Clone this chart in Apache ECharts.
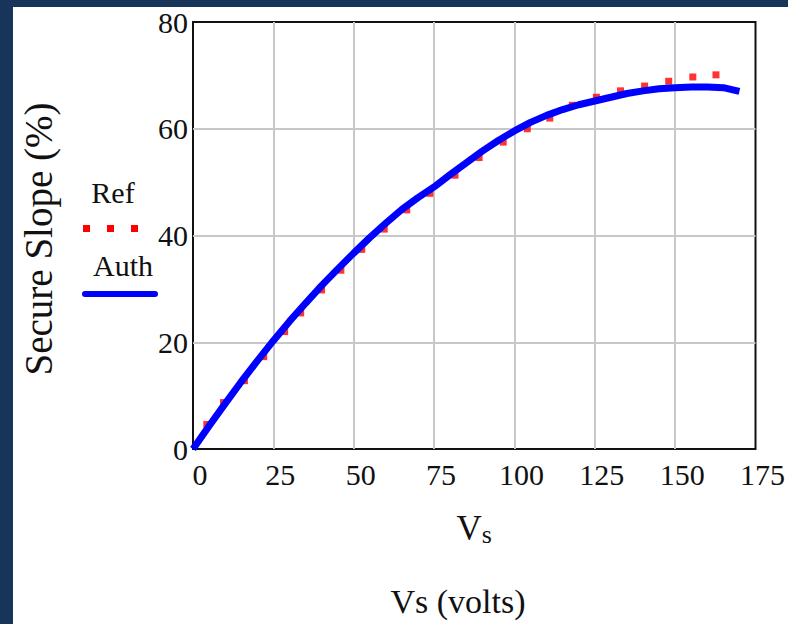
<!DOCTYPE html>
<html>
<head>
<meta charset="utf-8">
<script src="https://cdn.jsdelivr.net/npm/echarts@6/dist/echarts.min.js"></script>
<style>
  html, body { margin: 0; padding: 0; background: #17355b; }
  #chart { position: absolute; left: 13px; top: 7px; width: 775px; height: 617px; }
</style>
</head>
<body>
<div id="chart"></div>
<script>
const xTicks = [0, 25, 50, 75, 100, 125, 150, 175];
const yTicks = [0, 20, 40, 60, 80];

// Auth curve (solid blue)
const authVs = [0, 5, 10, 15, 20, 25, 30, 35, 40, 45, 50, 55, 60, 65, 70, 75, 80, 85,
  90, 95, 100, 105, 110, 115, 120, 125, 130, 135, 140, 145, 150, 155, 160, 165, 170];
const authSlope = [0, 4.3, 8.5, 12.6, 16.5, 20.3, 23.9, 27.3, 30.6, 33.7, 36.7, 39.6,
  42.3, 44.9, 47.1, 49.1, 51.4, 53.6, 55.8, 57.8, 59.6, 61.2, 62.5, 63.6, 64.5, 65.2,
  65.9, 66.6, 67.1, 67.5, 67.7, 67.8, 67.8, 67.7, 67.0];

// Ref points (red squares), mostly hidden under the blue curve
const refVs = [4.3, 9.5, 16, 22, 28.5, 33.5, 40, 46, 52.5, 59.5, 66.5, 73.7, 81.5, 89,
  96.5, 104, 111, 118, 125.5, 133, 140.5, 148, 155.5, 162.7];
const refSlope = [4.6, 8.7, 12.8, 17.3, 22.0, 25.5, 29.8, 33.5, 37.4, 41.2, 44.8, 47.9,
  51.3, 54.6, 57.5, 60.0, 62.0, 64.4, 65.9, 67.1, 68.0, 68.9, 69.7, 70.1];

const font = '"Liberation Serif", "Times New Roman", serif';

const chart = echarts.init(document.getElementById('chart'), null, { renderer: 'svg' });

chart.setOption({
  backgroundColor: '#ffffff',
  animation: false,
  grid: {
    left: 180, top: 15, width: 570, height: 427,
    show: true, borderColor: '#111', borderWidth: 2, backgroundColor: 'transparent'
  },
  xAxis: {
    type: 'value',
    min: xTicks[0], max: xTicks[xTicks.length - 1], interval: 25,
    axisLine: { show: false },
    axisTick: { show: false },
    axisLabel: {
      color: '#111', fontFamily: font, fontSize: 30, margin: 10,
      padding: [0, 0, 0, 14], showMaxLabel: true
    },
    splitLine: { show: true, showMinLine: false, showMaxLine: false,
      lineStyle: { color: '#c8c8c8', width: 2 } },
    name: '{v|V}{s|s}',
    nameLocation: 'middle',
    nameGap: 62,
    nameTextStyle: {
      rich: {
        v: { fontFamily: font, fontSize: 35, color: '#111', verticalAlign: 'top', lineHeight: 36 },
        s: { fontFamily: font, fontSize: 26, color: '#111', verticalAlign: 'bottom', padding: [22, 0, 0, 0], lineHeight: 26 }
      }
    }
  },
  yAxis: {
    type: 'value',
    min: yTicks[0], max: yTicks[yTicks.length - 1], interval: 20,
    axisLine: { show: false },
    axisTick: { show: false },
    axisLabel: {
      color: '#111', fontFamily: font, fontSize: 30, margin: 5,
      padding: [8, 0, 0, 0]
    },
    splitLine: { show: true, showMinLine: false, showMaxLine: false,
      lineStyle: { color: '#c8c8c8', width: 2 } }
  },
  series: [
    {
      name: 'Ref',
      type: 'scatter',
      data: refVs.map((v, i) => [v, refSlope[i]]),
      symbol: 'rect',
      symbolSize: 7,
      itemStyle: { color: '#ff0000' },
      z: 2
    },
    {
      name: 'Auth',
      type: 'line',
      data: authVs.map((v, i) => [v, authSlope[i]]),
      showSymbol: false,
      lineStyle: { color: '#0000ff', width: 7 },
      z: 3
    }
  ],
  graphic: [
    {
      type: 'text', x: 25, y: 232, rotation: Math.PI / 2,
      style: { text: 'Secure Slope (%)', font: '39px ' + font, fill: '#111',
        align: 'center', verticalAlign: 'middle' }
    },
    {
      type: 'text', x: 445, y: 594,
      style: { text: 'Vs (volts)', font: '34px ' + font, fill: '#111',
        align: 'center', verticalAlign: 'middle' }
    },
    // legend
    {
      type: 'text', x: 100, y: 185,
      style: { text: 'Ref', font: '30px ' + font, fill: '#111', align: 'center', verticalAlign: 'middle' }
    },
    { type: 'rect', shape: { x: 70, y: 218, width: 7, height: 7 }, style: { fill: '#ff0000' } },
    { type: 'rect', shape: { x: 94, y: 218, width: 7, height: 7 }, style: { fill: '#ff0000' } },
    { type: 'rect', shape: { x: 118, y: 218, width: 7, height: 7 }, style: { fill: '#ff0000' } },
    {
      type: 'text', x: 110, y: 258,
      style: { text: 'Auth', font: '30px ' + font, fill: '#111', align: 'center', verticalAlign: 'middle' }
    },
    {
      type: 'line', shape: { x1: 72, y1: 287, x2: 142, y2: 287 },
      style: { stroke: '#0000ff', lineWidth: 6, lineCap: 'round' }
    }
  ]
});
</script>
</body>
</html>
